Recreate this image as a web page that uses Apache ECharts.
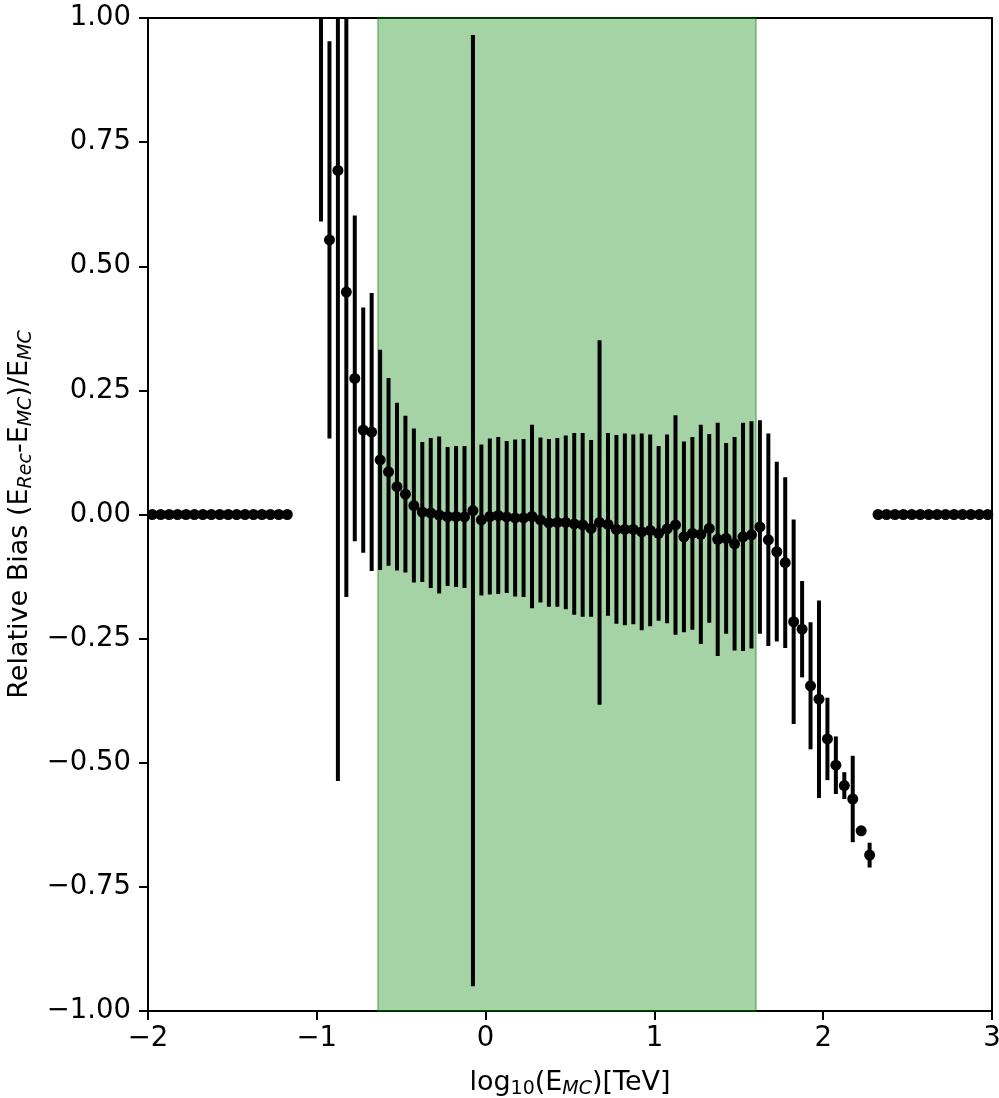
<!DOCTYPE html>
<html>
<head>
<meta charset="utf-8">
<script src="https://cdn.jsdelivr.net/npm/echarts@6/dist/echarts.min.js"></script>
<style>
  html, body { margin: 0; padding: 0; background: #fff; }
  #chart { width: 999px; height: 1098px; }
</style>
</head>
<body>
<div id="chart"></div>
<script>
// Bin centres in log10(E_MC / TeV)
const binCenters = [
  -1.975, -1.925, -1.875, -1.825, -1.775, -1.725, -1.675, -1.625, -1.575,
  -1.525, -1.475, -1.425, -1.375, -1.325, -1.275, -1.225, -1.175,
  -0.975, -0.925, -0.875, -0.825, -0.775, -0.725, -0.675, -0.625, -0.575,
  -0.525, -0.475, -0.425, -0.375, -0.325, -0.275, -0.225, -0.175, -0.125,
  -0.075, -0.025, 0.025, 0.075, 0.125, 0.175, 0.225, 0.275, 0.325, 0.375,
  0.425, 0.475, 0.525, 0.575, 0.625, 0.675, 0.725, 0.775, 0.825, 0.875,
  0.925, 0.975, 1.025, 1.075, 1.125, 1.175, 1.225, 1.275, 1.325, 1.375,
  1.425, 1.475, 1.525, 1.575, 1.625, 1.675, 1.725, 1.775, 1.825, 1.875,
  1.925, 1.975, 2.025, 2.075, 2.125, 2.175, 2.225, 2.275,
  2.325, 2.375, 2.425, 2.475, 2.525, 2.575, 2.625, 2.675, 2.725, 2.775,
  2.825, 2.875, 2.925, 2.975
];

// Mean relative bias per bin
const biasMean = [
  0, 0, 0, 0, 0, 0, 0, 0, 0,
  0, 0, 0, 0, 0, 0, 0, 0,
  1.35, 0.553, 0.693, 0.448, 0.274, 0.170, 0.166, 0.110, 0.086,
  0.056, 0.041, 0.018, 0.005, 0.003, -0.001, -0.004, -0.004, -0.005,
  0.008, -0.011, -0.004, -0.002, -0.005, -0.007, -0.007, -0.004, -0.011, -0.017,
  -0.016, -0.016, -0.019, -0.021, -0.028, -0.016, -0.020, -0.030, -0.030, -0.030,
  -0.035, -0.032, -0.038, -0.029, -0.021, -0.045, -0.038, -0.040, -0.028, -0.050,
  -0.048, -0.059, -0.045, -0.041, -0.025, -0.051, -0.075, -0.097, -0.216, -0.231,
  -0.345, -0.372, -0.452, -0.505, -0.546, -0.573, -0.637, -0.686,
  0, 0, 0, 0, 0, 0, 0, 0, 0,
  0, 0, 0, 0, 0
];

// Standard deviation of the relative bias per bin
const biasStd = [
  0, 0, 0, 0, 0, 0, 0, 0, 0,
  0, 0, 0, 0, 0, 0, 0, 0,
  0.76, 0.400, 1.230, 0.614, 0.328, 0.247, 0.280, 0.222, 0.189,
  0.169, 0.158, 0.155, 0.141, 0.151, 0.158, 0.140, 0.142, 0.143,
  0.958, 0.152, 0.157, 0.158, 0.153, 0.158, 0.159, 0.185, 0.166, 0.169,
  0.170, 0.175, 0.183, 0.185, 0.178, 0.367, 0.184, 0.190, 0.193, 0.191,
  0.198, 0.193, 0.176, 0.190, 0.221, 0.192, 0.194, 0.221, 0.190, 0.235,
  0.192, 0.215, 0.230, 0.229, 0.215, 0.214, 0.181, 0.172, 0.206, 0.097,
  0.128, 0.199, 0.083, 0.058, 0.027, 0.087, 0.005, 0.025,
  0, 0, 0, 0, 0, 0, 0, 0, 0,
  0, 0, 0, 0, 0
];

// Energy range highlighted in green (log10 TeV)
const safeRange = [-0.638, 1.602];

const xTicks = [-2, -1, 0, 1, 2, 3];
const yTicks = [-1.0, -0.75, -0.5, -0.25, 0.0, 0.25, 0.5, 0.75, 1.0];

const FONT = 'DejaVu Sans';
const TICK_FS = 27.5;
const NAME_FS = 27;
const SUB_FS = 19;
const minusSign = s => s.replace('-', '\u2212');

const points = binCenters.map((x, i) => [x, biasMean[i]]);
const bars = binCenters.map((x, i) => [x, biasMean[i] - biasStd[i], biasMean[i] + biasStd[i]]);

const chart = echarts.init(document.getElementById('chart'), null, { renderer: 'canvas' });

chart.setOption({
  animation: false,
  backgroundColor: '#ffffff',
  textStyle: { fontFamily: FONT, color: '#000' },
  grid: {
    left: 148, right: 7, top: 18, bottom: 87,
    containLabel: false,
    outerBoundsMode: 'none',
    show: true, borderColor: '#000', borderWidth: 2, backgroundColor: 'transparent'
  },
  xAxis: {
    type: 'value',
    min: xTicks[0], max: xTicks[xTicks.length - 1], interval: 1,
    splitLine: { show: false },
    axisLine: { show: true, onZero: false, lineStyle: { color: '#000', width: 2 } },
    axisTick: { show: true, inside: false, length: 9, lineStyle: { color: '#000', width: 2 } },
    axisLabel: {
      margin: 14, fontSize: TICK_FS, color: '#000', fontFamily: FONT,
      formatter: v => minusSign(String(v))
    },
    name: '{n|log}{s|10}{n|(E}{si|MC}{n|)[TeV]}',
    nameLocation: 'middle',
    nameGap: 56,
    nameTextStyle: {
      rich: {
        n: { fontSize: NAME_FS, fontFamily: FONT, color: '#000', lineHeight: 32 },
        s: { fontSize: SUB_FS, fontFamily: FONT, color: '#000', lineHeight: 14, verticalAlign: 'bottom' },
        si: { fontSize: SUB_FS, fontFamily: FONT, fontStyle: 'italic', color: '#000', lineHeight: 14, verticalAlign: 'bottom' }
      }
    }
  },
  yAxis: {
    type: 'value',
    min: yTicks[0], max: yTicks[yTicks.length - 1], interval: 0.25,
    splitLine: { show: false },
    axisLine: { show: true, onZero: false, lineStyle: { color: '#000', width: 2 } },
    axisTick: { show: true, inside: false, length: 9, lineStyle: { color: '#000', width: 2 } },
    axisLabel: {
      margin: 17, fontSize: TICK_FS, color: '#000', fontFamily: FONT,
      formatter: v => minusSign(v.toFixed(2))
    },
    name: '{n|Relative Bias (E}{si|Rec}{n|-E}{si|MC}{n|)/E}{si|MC}',
    nameLocation: 'middle',
    nameRotate: 90,
    nameGap: 102,
    nameTextStyle: {
      rich: {
        n: { fontSize: NAME_FS, fontFamily: FONT, color: '#000', lineHeight: 32 },
        si: { fontSize: SUB_FS, fontFamily: FONT, fontStyle: 'italic', color: '#000', lineHeight: 15, verticalAlign: 'bottom' }
      }
    }
  },
  series: [
    {
      // highlighted energy range
      type: 'scatter',
      data: [],
      z: 1,
      markArea: {
        silent: true,
        itemStyle: {
          color: 'rgba(0,128,0,0.35)',
          borderColor: 'rgba(0,128,0,0.35)',
          borderWidth: 2
        },
        data: [[{ xAxis: safeRange[0] }, { xAxis: safeRange[1] }]]
      }
    },
    {
      // error bars
      type: 'custom',
      z: 3,
      clip: true,
      data: bars,
      renderItem: (params, api) => {
        const x = api.value(0);
        const lo = api.coord([x, api.value(1)]);
        const hi = api.coord([x, api.value(2)]);
        return {
          type: 'line',
          shape: { x1: lo[0], y1: lo[1], x2: hi[0], y2: hi[1] },
          style: { stroke: '#000', lineWidth: 4 }
        };
      },
      encode: { x: 0, y: [1, 2] }
    },
    {
      type: 'scatter',
      z: 4,
      clip: true,
      symbol: 'circle',
      symbolSize: 11,
      itemStyle: { color: '#000', opacity: 1, borderWidth: 0 },
      data: points
    }
  ]
});
</script>
</body>
</html>
